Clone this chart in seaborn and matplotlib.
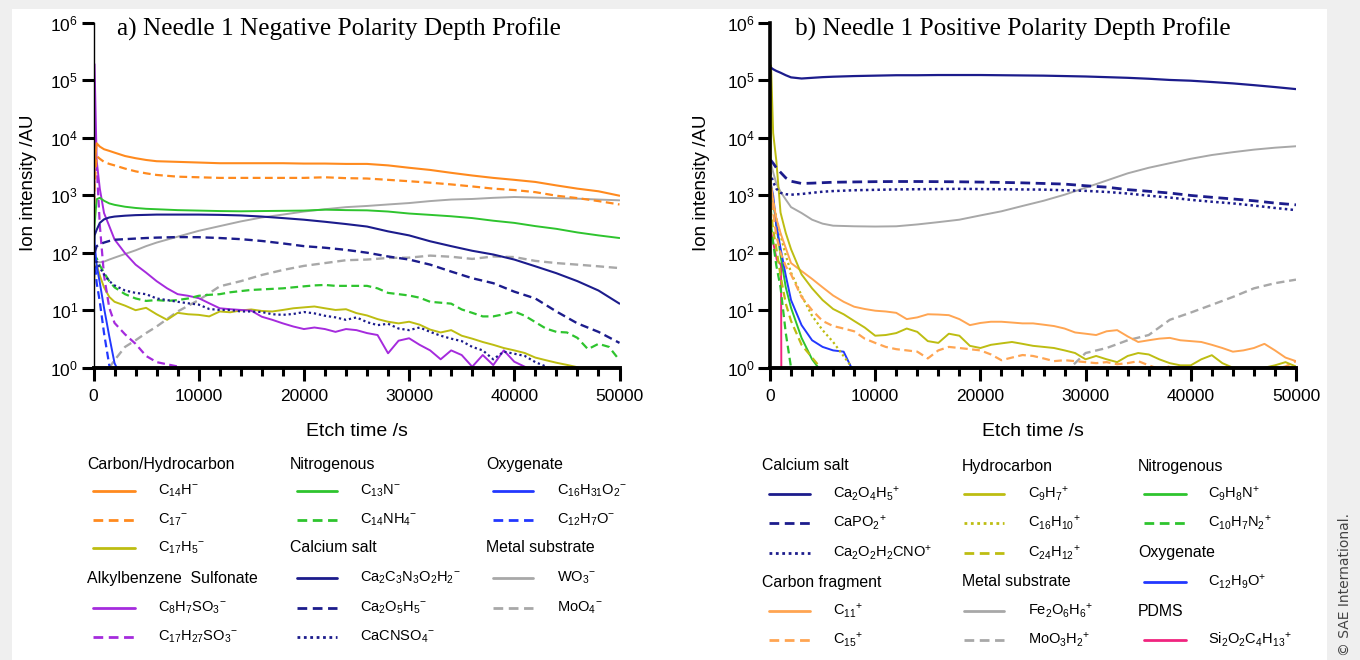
import numpy as np
import matplotlib
matplotlib.use("Agg")
import matplotlib.pyplot as plt
import seaborn as sns
from matplotlib.lines import Line2D
from matplotlib.patches import Rectangle
from matplotlib.ticker import MultipleLocator, LogLocator, NullLocator

nan = np.nan

# ---------------- data (ion intensity, AU) ----------------
etch_time = [0, 100, 300, 600, 1000, 1500, 2000, 3000, 4000, 5000,
             6000, 8000, 10000, 12000, 14000, 16000, 18000, 20000, 22000, 24000,
             26000, 28000, 30000, 32000, 34000, 36000, 38000, 40000, 42000, 44000,
             46000, 48000, 50000]
# finer sampling used for the noisier traces
fine_time = [0, 100, 300, 600, 1000, 1500, 2000, 3000, 4000, 5000,
             6000, 7000, 8000, 9000, 10000, 11000, 12000, 13000, 14000, 15000,
             16000, 17000, 18000, 19000, 20000, 21000, 22000, 23000, 24000, 25000,
             26000, 27000, 28000, 29000, 30000, 31000, 32000, 33000, 34000, 35000,
             36000, 37000, 38000, 39000, 40000, 41000, 42000, 43000, 44000, 45000,
             46000, 47000, 48000, 49000, 50000]

# Negative polarity
c14h_neg = [200, 3000, 8000, 7000, 6300, 5900, 5500, 4800, 4400, 4100,
            3900, 3800, 3700, 3600, 3600, 3600, 3600, 3550, 3550, 3500,
            3500, 3300, 3000, 2750, 2450, 2200, 2000, 1850, 1700, 1480,
            1300, 1170, 980]
c17_neg = [100, 1500, 4800, 4300, 3800, 3500, 3300, 2900, 2600, 2400,
           2250, 2100, 2050, 2000, 2000, 2000, 2000, 2000, 2050, 1980,
           1950, 1850, 1750, 1650, 1540, 1420, 1300, 1230, 1130, 980,
           890, 790, 690]
c17h5_neg = [10, 45, 62, 40, 25, 17, 14, 12, 10, 11,
             8.5, 6.8, 9.0, 8.5, 8.3, 7.8, 9.5, 9.2, 9.9, 10.3,
             9.7, 9.5, 10.1, 10.8, 11.2, 11.6, 10.8, 10.1, 10.4, 8.9,
             8.1, 7.0, 6.3, 5.9, 6.3, 5.6, 4.6, 4.1, 4.5, 3.6,
             3.2, 2.8, 2.5, 2.2, 2.0, 1.8, 1.5, 1.35, 1.22, 1.12,
             1.02, 0.8, nan, nan, nan]
c8h7so3_neg = [0.5, 1.9e5, 4000, 1300, 490, 290, 170, 98, 62, 45,
               32, 24, 19, 17.8, 16.2, 13.2, 10.8, 10.4, 10.1, 9.8,
               7.7, 6.8, 5.9, 5.2, 4.7, 5.0, 4.7, 4.2, 4.7, 4.5,
               4.0, 3.7, 1.78, 2.95, 3.25, 2.5, 2.0, 1.4, 2.0, 1.66,
               1.04, 1.66, 1.11, 2.0, 1.27, 1.04, 0.8, nan, nan, nan,
               nan, nan, nan, nan, nan]
c17h27so3_neg = [300, 3000, 3500, 300, 40, 11, 6, 3.8, 2.6, 1.6,
                 1.25, 1.05, 0.8, nan, nan, nan, nan, nan, nan, nan,
                 nan, nan, nan, nan, nan, nan, nan, nan, nan, nan,
                 nan, nan, nan]
c13n_neg = [70, 300, 850, 900, 800, 720, 680, 630, 600, 580,
            570, 550, 540, 530, 525, 530, 535, 540, 560, 550,
            545, 520, 480, 455, 430, 400, 360, 330, 290, 260,
            225, 200, 180]
c14nh4_neg = [40, 70, 80, 60, 45, 32, 25, 19, 16, 14.5,
              15, 14.5, 15, 16, 17.8, 18.5, 19, 20.5, 21.5, 22.5,
              23, 23.5, 24, 25, 26, 27, 27.5, 26.5, 26.5, 26.5,
              26.5, 24, 20, 19, 18, 16.5, 14, 13.5, 13, 10.3,
              9.0, 7.8, 7.8, 8.5, 9.5, 8.0, 6.2, 4.8, 4.2, 4.1,
              3.3, 2.1, 2.6, 2.3, 1.35]
c16h31o2_neg = [300, 150, 60, 30, 11, 3.5, 1.2, 0.5, nan, nan,
                nan, nan, nan, nan, nan, nan, nan, nan, nan, nan,
                nan, nan, nan, nan, nan, nan, nan, nan, nan, nan,
                nan, nan, nan]
c12h7o_neg = [150, 80, 30, 14, 4, 1.1, 0.5, nan, nan, nan,
              nan, nan, nan, nan, nan, nan, nan, nan, nan, nan,
              nan, nan, nan, nan, nan, nan, nan, nan, nan, nan,
              nan, nan, nan]
ca2c3n3o2h2_neg = [100, 200, 250, 330, 380, 410, 425, 440, 450, 455,
                   460, 460, 460, 455, 445, 425, 400, 375, 345, 315,
                   285, 235, 200, 158, 130, 108, 93, 76, 58, 44,
                   32, 22, 13]
ca2o5h5_neg = [60, 100, 130, 140, 150, 160, 168, 172, 176, 180,
               183, 187, 186, 180, 172, 160, 145, 130, 122, 112,
               100, 86, 76, 62, 47, 36, 29.5, 21, 16, 9.5,
               5.9, 4.2, 2.7]
cacnso4_neg = [30, 60, 70, 55, 42, 32, 27, 22, 20, 19,
               16, 15, 14, 13.2, 12.5, 10.5, 10.1, 10.1, 9.5, 9.5,
               9.3, 8.5, 8.3, 8.6, 9.3, 8.8, 8.0, 7.5, 6.8, 7.5,
               6.2, 5.5, 5.8, 4.8, 4.5, 5.0, 4.2, 3.6, 3.2, 2.9,
               2.3, 2.0, 1.4, 1.9, 1.75, 1.6, 1.25, 1.05, 0.8, nan,
               nan, nan, nan, nan, nan]
wo3_neg = [80, 75, 70, 68, 70, 76, 82, 95, 110, 130,
           150, 190, 240, 290, 350, 410, 460, 520, 570, 620,
           650, 690, 730, 790, 840, 860, 900, 930, 910, 890,
           870, 840, 815]
moo4_neg = [nan, nan, nan, nan, 0.6, 1.0, 1.35, 2.3, 3.0, 4.0,
            5.2, 9.5, 15, 26, 32, 41, 50, 59, 66, 74,
            76, 81, 82, 89, 85, 78, 86, 84, 72, 66,
            62, 58, 54]

# Positive polarity
ca2o4h5_pos = [1.7e5, 1.65e5, 1.55e5, 1.45e5, 1.35e5, 1.22e5, 1.12e5, 1.07e5, 1.1e5, 1.13e5,
               1.15e5, 1.18e5, 1.2e5, 1.22e5, 1.22e5, 1.23e5, 1.23e5, 1.23e5, 1.22e5, 1.21e5,
               1.2e5, 1.18e5, 1.16e5, 1.13e5, 1.1e5, 1.06e5, 1.01e5, 9.8e4, 9.3e4, 8.8e4,
               8.2e4, 7.6e4, 7.0e4]
capo2_pos = [4000, 4000, 3600, 3000, 2500, 2000, 1750, 1600, 1620, 1650,
             1680, 1700, 1720, 1730, 1730, 1720, 1710, 1690, 1670, 1640,
             1600, 1560, 1460, 1380, 1250, 1170, 1090, 990, 920, 860,
             800, 730, 680]
ca2o2h2cno_pos = [2500, 2200, 1700, 1300, 1100, 1040, 1020, 1050, 1100, 1150,
                  1180, 1220, 1240, 1260, 1270, 1280, 1290, 1280, 1270, 1260,
                  1250, 1220, 1190, 1140, 1070, 980, 910, 830, 770, 720,
                  660, 600, 550]
c11_pos = [3000, 1500, 800, 400, 220, 120, 66, 48, 35, 25,
           18, 14, 11.5, 10.5, 9.8, 9.5, 9.0, 7.0, 7.5, 8.5,
           8.4, 8.2, 7.0, 5.5, 6.0, 6.3, 6.3, 6.1, 5.9, 5.9,
           5.6, 5.3, 4.8, 4.1, 3.9, 3.7, 4.3, 4.5, 3.5, 2.8,
           3.0, 3.2, 3.3, 3.0, 2.9, 2.8, 2.5, 2.2, 1.9, 2.0,
           2.2, 2.6, 2.0, 1.5, 1.3]
c15_pos = [2000, 1000, 500, 200, 100, 58, 42, 17, 10, 6.5,
           5.3, 4.8, 4.3, 3.2, 2.7, 2.3, 2.1, 2.0, 1.9, 1.45,
           2.0, 2.3, 2.2, 2.1, 2.0, 1.7, 1.35, 1.5, 1.66, 1.6,
           1.45, 1.3, 1.35, 1.3, 1.25, 1.2, 1.25, 1.15, 1.2, 1.3,
           1.1, 0.95, 1.05, 0.95, 0.9, 0.95, 1.0, 0.95, 0.95, 0.9,
           0.9, 0.9, 0.95, 1.05, 1.3]
c9h7_pos = [0.5, 1.8e5, 1.2e4, 4000, 500, 220, 115, 42, 24, 15,
            10.5, 8.5, 6.5, 5.0, 3.6, 3.7, 4.0, 4.8, 4.2, 2.9,
            2.7, 3.9, 3.6, 2.4, 2.2, 2.5, 2.65, 2.8, 2.6, 2.4,
            2.3, 2.2, 2.0, 1.8, 1.4, 1.6, 1.4, 1.25, 1.6, 1.8,
            1.7, 1.4, 1.2, 1.1, 1.1, 1.4, 1.65, 1.2, 1.0, 0.95,
            0.95, 1.0, 1.1, 1.25, 1.05]
c16h10_pos = [3000, 1500, 800, 400, 200, 90, 45, 18, 8, 4.5,
              2.8, 0.9, nan, nan, nan, nan, nan, nan, nan, nan,
              nan, nan, nan, nan, nan, nan, nan, nan, nan, nan,
              nan, nan, nan]
c24h12_pos = [1000, 500, 250, 120, 40, 13, 6.5, 2.5, 1.5, 0.9,
              nan, nan, nan, nan, nan, nan, nan, nan, nan, nan,
              nan, nan, nan, nan, nan, nan, nan, nan, nan, nan,
              nan, nan, nan]
c9h8n_pos = [1500, 1200, 800, 300, 90, 25, 11, 3.3, 1.4, 0.8,
             nan, nan, nan, nan, nan, nan, nan, nan, nan, nan,
             nan, nan, nan, nan, nan, nan, nan, nan, nan, nan,
             nan, nan, nan]
c10h7n2_pos = [500, 300, 150, 60, 25, 4, 1.0, 0.5, nan, nan,
               nan, nan, nan, nan, nan, nan, nan, nan, nan, nan,
               nan, nan, nan, nan, nan, nan, nan, nan, nan, nan,
               nan, nan, nan]
c12h9o_pos = [2000, 1500, 1000, 300, 120, 40, 15, 5.5, 3.0, 2.3,
              2.0, 1.9, 0.8, nan, nan, nan, nan, nan, nan, nan,
              nan, nan, nan, nan, nan, nan, nan, nan, nan, nan,
              nan, nan, nan, nan, nan, nan, nan, nan, nan, nan,
              nan, nan, nan, nan, nan, nan, nan, nan, nan, nan,
              nan, nan, nan, nan, nan]
fe2o6h6_pos = [5000, 3500, 2500, 1600, 1150, 840, 620, 490, 375, 320,
               295, 288, 285, 288, 310, 340, 375, 445, 525, 650,
               800, 1020, 1350, 1800, 2400, 3000, 3600, 4300, 5000, 5600,
               6200, 6700, 7100]
moo3h2_pos = [nan, nan, nan, nan, nan, nan, nan, nan, nan, nan,
              nan, nan, nan, nan, nan, nan, nan, nan, nan, nan,
              nan, 0.8, 1.8, 2.2, 3.0, 3.7, 6.8, 9.1, 12.4, 17,
              24, 29.5, 34]
pdms_time = [0, 300, 650, 950, 1050, 1080]
si2o2c4h13_pos = [290, 150, 75, 65, 60, 0.5]

# ---------------- styles ----------------
ORANGE = '#FF8A1E'
ORANGE_L = '#FFA552'
OLIVE = '#BDBD12'
PURPLE = '#A52BDD'
GREEN = '#2EC42E'
BLUE = '#2238FF'
NAVY = '#1C1C8C'
GREY = '#A8A8A8'
PINK = '#F0247F'
SOLID = '-'
DASH = (0, (3.5, 2))
DOT = (0, (1, 1.3))

neg = {
    'c14h': ("C$_{14}$H$^{-}$", etch_time, c14h_neg, ORANGE, SOLID, 1.5),
    'c17': ("C$_{17}$$^{-}$", etch_time, c17_neg, ORANGE, DASH, 1.6),
    'c17h5': ("C$_{17}$H$_{5}$$^{-}$", fine_time, c17h5_neg, OLIVE, SOLID, 1.4),
    'c8': ("C$_{8}$H$_{7}$SO$_{3}$$^{-}$", fine_time, c8h7so3_neg, PURPLE, SOLID, 1.4),
    'c17h27': ("C$_{17}$H$_{27}$SO$_{3}$$^{-}$", etch_time, c17h27so3_neg, PURPLE, DASH, 1.6),
    'c13n': ("C$_{13}$N$^{-}$", etch_time, c13n_neg, GREEN, SOLID, 1.4),
    'c14nh4': ("C$_{14}$NH$_{4}$$^{-}$", fine_time, c14nh4_neg, GREEN, DASH, 1.6),
    'c16': ("C$_{16}$H$_{31}$O$_{2}$$^{-}$", etch_time, c16h31o2_neg, BLUE, SOLID, 1.4),
    'c12h7o': ("C$_{12}$H$_{7}$O$^{-}$", etch_time, c12h7o_neg, BLUE, DASH, 1.6),
    'ca2c3': ("Ca$_{2}$C$_{3}$N$_{3}$O$_{2}$H$_{2}$$^{-}$", etch_time, ca2c3n3o2h2_neg, NAVY, SOLID, 1.5),
    'ca2o5': ("Ca$_{2}$O$_{5}$H$_{5}$$^{-}$", etch_time, ca2o5h5_neg, NAVY, DASH, 1.7),
    'cacnso4': ("CaCNSO$_{4}$$^{-}$", fine_time, cacnso4_neg, NAVY, DOT, 1.6),
    'wo3': ("WO$_{3}$$^{-}$", etch_time, wo3_neg, GREY, SOLID, 1.4),
    'moo4': ("MoO$_{4}$$^{-}$", etch_time, moo4_neg, GREY, DASH, 1.7),
}
pos = {
    'ca2o4': ("Ca$_{2}$O$_{4}$H$_{5}$$^{+}$", etch_time, ca2o4h5_pos, NAVY, SOLID, 1.6),
    'capo2': ("CaPO$_{2}$$^{+}$", etch_time, capo2_pos, NAVY, DASH, 2.0),
    'ca2o2': ("Ca$_{2}$O$_{2}$H$_{2}$CNO$^{+}$", etch_time, ca2o2h2cno_pos, NAVY, DOT, 1.8),
    'c11': ("C$_{11}$$^{+}$", fine_time, c11_pos, ORANGE_L, SOLID, 1.4),
    'c15': ("C$_{15}$$^{+}$", fine_time, c15_pos, ORANGE_L, DASH, 1.6),
    'c9h7': ("C$_{9}$H$_{7}$$^{+}$", fine_time, c9h7_pos, OLIVE, SOLID, 1.4),
    'c16h10': ("C$_{16}$H$_{10}$$^{+}$", etch_time, c16h10_pos, OLIVE, DOT, 1.6),
    'c24h12': ("C$_{24}$H$_{12}$$^{+}$", etch_time, c24h12_pos, OLIVE, DASH, 1.6),
    'fe2o6': ("Fe$_{2}$O$_{6}$H$_{6}$$^{+}$", etch_time, fe2o6h6_pos, GREY, SOLID, 1.4),
    'moo3': ("MoO$_{3}$H$_{2}$$^{+}$", etch_time, moo3h2_pos, GREY, DASH, 1.7),
    'c9h8n': ("C$_{9}$H$_{8}$N$^{+}$", etch_time, c9h8n_pos, GREEN, SOLID, 1.4),
    'c10h7n2': ("C$_{10}$H$_{7}$N$_{2}$$^{+}$", etch_time, c10h7n2_pos, GREEN, DASH, 1.6),
    'c12h9o': ("C$_{12}$H$_{9}$O$^{+}$", fine_time, c12h9o_pos, BLUE, SOLID, 1.4),
    'si': ("Si$_{2}$O$_{2}$C$_{4}$H$_{13}$$^{+}$", pdms_time, si2o2c4h13_pos, PINK, SOLID, 1.4),
}
neg_order = ['wo3', 'moo4', 'c17h5', 'c8', 'c17h27', 'c14nh4', 'c13n', 'c16', 'c12h7o',
             'cacnso4', 'ca2o5', 'ca2c3', 'c17', 'c14h']
pos_order = ['fe2o6', 'moo3', 'si', 'c10h7n2', 'c9h8n', 'c12h9o', 'c24h12', 'c16h10',
             'c15', 'c11', 'c9h7', 'ca2o2', 'capo2', 'ca2o4']

neg_legend = [
    ["Carbon/Hydrocarbon", 'c14h', 'c17', 'c17h5', "Alkylbenzene  Sulfonate", 'c8', 'c17h27'],
    ["Nitrogenous", 'c13n', 'c14nh4', "Calcium salt", 'ca2c3', 'ca2o5', 'cacnso4'],
    ["Oxygenate", 'c16', 'c12h7o', "Metal substrate", 'wo3', 'moo4'],
]
pos_legend = [
    ["Calcium salt", 'ca2o4', 'capo2', 'ca2o2', "Carbon fragment", 'c11', 'c15'],
    ["Hydrocarbon", 'c9h7', 'c16h10', 'c24h12', "Metal substrate", 'fe2o6', 'moo3'],
    ["Nitrogenous", 'c9h8n', 'c10h7n2', "Oxygenate", 'c12h9o', "PDMS", 'si'],
]

# ---------------- figure ----------------
sns.set_theme(style="ticks")
plt.rcParams['font.family'] = ['Liberation Sans', 'DejaVu Sans']
plt.rcParams['mathtext.fontset'] = 'custom'
plt.rcParams['mathtext.rm'] = 'Liberation Sans'
plt.rcParams['mathtext.it'] = 'Liberation Sans:italic'
plt.rcParams['mathtext.bf'] = 'Liberation Sans:bold'
plt.rcParams['axes.edgecolor'] = 'black'
plt.rcParams['xtick.color'] = 'black'
plt.rcParams['ytick.color'] = 'black'
plt.rcParams['text.color'] = 'black'
plt.rcParams['axes.labelcolor'] = 'black'

W, H = 1360, 660
fig = plt.figure(figsize=(W / 100, H / 100), dpi=100)
fig.patch.set_facecolor('#EFEFEF')
fig.add_artist(Rectangle((12 / W, 0), (1327 - 12) / W, (H - 9) / H, transform=fig.transFigure,
                         facecolor='white', edgecolor='none', zorder=0))

ax1 = fig.add_axes([93.5 / W, 1 - 367.7 / H, 526 / W, 345 / H])
ax2 = fig.add_axes([770 / W, 1 - 367.7 / H, 526 / W, 345 / H])


def draw(ax, series, order):
    ax.set_yscale('log')
    for key in order:
        label, t, vals, color, ls, lw = series[key]
        sns.lineplot(x=t, y=vals, ax=ax, color=color, linestyle=ls, linewidth=lw,
                     estimator=None, sort=False, legend=False)


draw(ax1, neg, neg_order)
draw(ax2, pos, pos_order)

for ax, title, tx, lspine, ylx in [(ax1, "a) Needle 1 Negative Polarity Depth Profile", 0.045, 1.0, -0.108),
                                   (ax2, "b) Needle 1 Positive Polarity Depth Profile", 0.048, 2.6, -0.114)]:
    ax.set_facecolor('none')
    ax.set_xlim(0, 50000)
    ax.set_ylim(1, 1e6)
    ax.xaxis.set_major_locator(MultipleLocator(10000))
    ax.xaxis.set_minor_locator(MultipleLocator(2000))
    ax.yaxis.set_major_locator(LogLocator(base=10, numticks=10))
    ax.yaxis.set_minor_locator(NullLocator())
    ax.tick_params(axis='both', which='major', direction='out', length=9, width=2.2,
                   labelsize=12.5)
    ax.tick_params(axis='x', which='major', pad=6)
    ax.tick_params(axis='y', which='major', pad=2)
    ax.tick_params(axis='x', which='minor', direction='out', length=6, width=2.2)
    sns.despine(ax=ax)
    ax.spines['bottom'].set_linewidth(2.8)
    ax.spines['left'].set_linewidth(lspine)
    ax.set_xlabel('Etch time /s', fontsize=14, labelpad=14)
    ax.set_ylabel('Ion intensity /AU', fontsize=13.5)
    ax.yaxis.set_label_coords(ylx, 0.535)
    ax.text(tx, 1.016, title, transform=ax.transAxes, va='top', ha='left',
            family=['Liberation Serif'], fontsize=18.2)


def draw_legend(columns, series, col_x, rows_y):
    for (hx, lx0, lx1, tx), col in zip(col_x, columns):
        for y, item in zip(rows_y, col):
            fy = 1 - y / H
            if item in series:
                label, t, vals, color, ls, lw = series[item]
                fig.add_artist(Line2D([lx0 / W, lx1 / W], [fy, fy], transform=fig.transFigure,
                                      color=color, linestyle=ls, linewidth=2.0))
                fig.text(tx / W, fy, label, fontsize=10.5, va='center', ha='left')
            else:
                fig.text(hx / W, fy, item, fontsize=11.4, va='center', ha='left')


draw_legend(neg_legend, neg,
            [(87, 93, 135, 158), (290, 297, 337, 360), (486, 493, 533, 557)],
            [465, 491, 520, 548, 578, 608, 637])
draw_legend(pos_legend, pos,
            [(762, 769, 810, 833), (962, 964, 1004, 1028), (1138, 1144, 1186, 1208)],
            [466, 494, 523, 553, 582, 611, 640])

fig.text(1345 / W, 4 / H, "© SAE International.", rotation=90, va='bottom', ha='center',
         fontsize=10, color='#444444', family=['DejaVu Sans'])

fig.savefig("out.png", dpi=100, facecolor=fig.get_facecolor())
